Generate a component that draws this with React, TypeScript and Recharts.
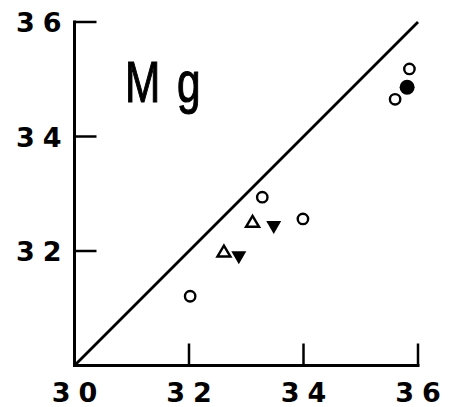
import React from 'react';
import { ScatterChart, Scatter, XAxis, YAxis, ReferenceLine, Customized } from 'recharts';

// Observed vs. reference Mg values
const openCircles = [
  { x: 32.02, y: 31.21 },
  { x: 33.28, y: 32.94 },
  { x: 33.99, y: 32.56 },
  { x: 35.6, y: 34.65 },
  { x: 35.85, y: 35.18 },
];
const filledCircles = [{ x: 35.81, y: 34.86 }];
const openTriangles = [
  { x: 33.11, y: 32.51 },
  { x: 32.61, y: 31.99 },
];
const filledTriangles = [
  { x: 33.48, y: 32.42 },
  { x: 32.87, y: 31.89 },
];

const xTicks = [30, 32, 34, 36];
const yTicks = [32, 34, 36];
const identityLine = [
  { x: 30, y: 30 },
  { x: 36, y: 36 },
];

const INK = '#000';
const TICK_LEN = 22;
const TICK_FONT = '"DejaVu Sans", Verdana, sans-serif';
const TITLE_FONT = '"Liberation Sans", Arial, sans-serif';

const OpenCircle = (p: any) => (
  <circle cx={p.cx} cy={p.cy} r={5.2} fill="#fff" stroke={INK} strokeWidth={2.4} />
);
const FilledCircle = (p: any) => <circle cx={p.cx} cy={p.cy} r={7.5} fill={INK} />;
const OpenTriangle = (p: any) => (
  <path
    d={`M${p.cx},${p.cy - 6} L${p.cx + 6.5},${p.cy + 5} L${p.cx - 6.5},${p.cy + 5} Z`}
    fill="#fff"
    stroke={INK}
    strokeWidth={2.4}
  />
);
const FilledTriangle = (p: any) => (
  <path
    d={`M${p.cx - 7.5},${p.cy - 6} L${p.cx + 7.5},${p.cy - 6} L${p.cx},${p.cy + 7} Z`}
    fill={INK}
  />
);

const TickText = ({ x, y, anchor, children }: any) => (
  <text
    x={x}
    y={y}
    textAnchor={anchor}
    fontFamily={TICK_FONT}
    fontWeight={700}
    fontSize={27}
    letterSpacing={8}
    fill={INK}
  >
    {children}
  </text>
);

// Axis ticks point into the plot; labels sit outside
const YTick = (p: any) => (
  <g>
    <line x1={p.x} y1={p.y} x2={p.x + TICK_LEN} y2={p.y} stroke={INK} strokeWidth={2.5} />
    <TickText x={p.x - 5} y={p.y + 10} anchor="end">
      {p.payload.value}
    </TickText>
  </g>
);
const XTick = (p: any) => (
  <g>
    {p.payload.value !== 30 && (
      <line x1={p.x} y1={p.y} x2={p.x} y2={p.y - TICK_LEN} stroke={INK} strokeWidth={2.5} />
    )}
    <TickText x={p.x + 4} y={p.y + 36} anchor="middle">
      {p.payload.value}
    </TickText>
  </g>
);

const ElementLabel = () => (
  <g transform="translate(125,102) scale(0.73,1)">
    <text
      x={0}
      y={0}
      fontFamily={TITLE_FONT}
      fontSize={58}
      letterSpacing={23}
      fill={INK}
      stroke={INK}
      strokeWidth={1.2}
    >
      Mg
    </text>
  </g>
);

export default function App() {
  return (
    <div style={{ position: 'absolute', left: 0, top: 0, background: '#fff' }}>
      <ScatterChart
        width={450}
        height={407}
        margin={{ top: 22, right: 32, bottom: 0, left: 0 }}
      >
        <XAxis
          type="number"
          dataKey="x"
          domain={[30, 36]}
          ticks={xTicks}
          height={41.5}
          tickSize={0}
          tickMargin={0}
          tickLine={false}
          axisLine={{ stroke: INK, strokeWidth: 3, strokeLinecap: 'square' }}
          tick={<XTick />}
          interval={0}
        />
        <YAxis
          type="number"
          dataKey="y"
          domain={[30, 36]}
          ticks={yTicks}
          width={74.5}
          tickSize={0}
          tickMargin={0}
          tickLine={false}
          axisLine={{ stroke: INK, strokeWidth: 3, strokeLinecap: 'square' }}
          tick={<YTick />}
          interval={0}
        />
        <ReferenceLine
          segment={identityLine}
          stroke={INK}
          strokeWidth={2.8}
          ifOverflow="visible"
        />
        <Scatter data={openCircles} shape={<OpenCircle />} isAnimationActive={false} />
        <Scatter data={filledCircles} shape={<FilledCircle />} isAnimationActive={false} />
        <Scatter data={openTriangles} shape={<OpenTriangle />} isAnimationActive={false} />
        <Scatter data={filledTriangles} shape={<FilledTriangle />} isAnimationActive={false} />
        <Customized component={ElementLabel} />
      </ScatterChart>
    </div>
  );
}
